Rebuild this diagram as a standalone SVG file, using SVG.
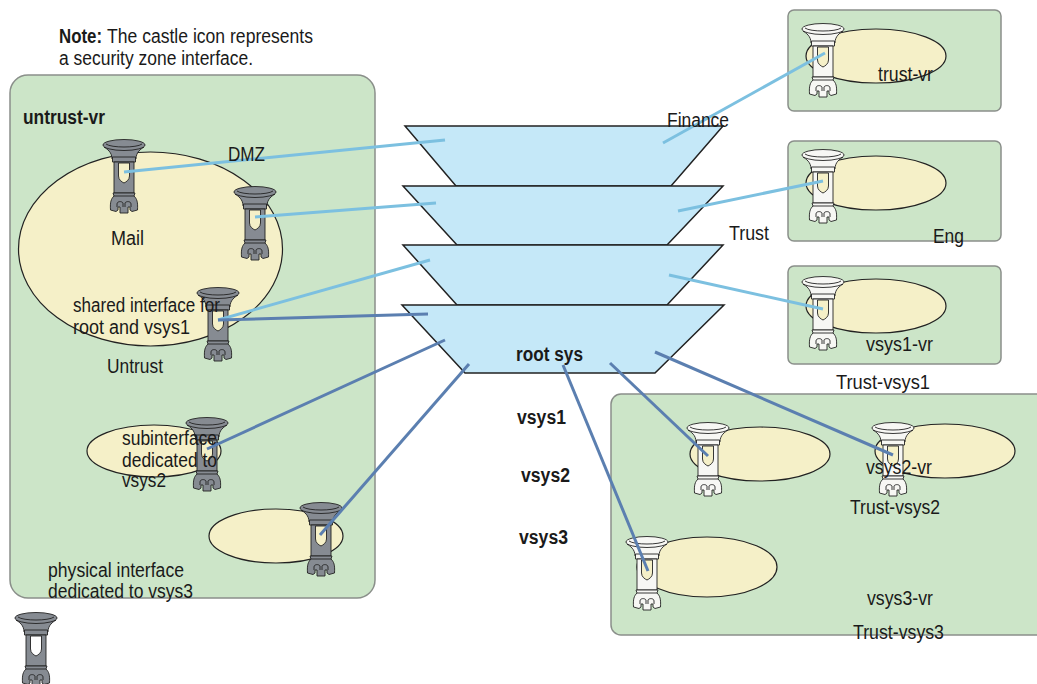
<svg xmlns="http://www.w3.org/2000/svg" width="1037" height="684" viewBox="0 0 1037 684">
<style>
text{font-family:"Liberation Sans",Arial,sans-serif;font-size:19.500px;fill:#1a1a1a}
.b{font-weight:bold}
.zone{fill:#cce5c8;stroke:#8a8f8a;stroke-width:1.500}
.oval{fill:#f5f0c8;stroke:#222;stroke-width:1.200}
.tier{fill:#c5e8f8;stroke:#222;stroke-width:1.500}
.lt{stroke:#7cc0e0;stroke-width:3;fill:none}
.dk{stroke:#5b7fb0;stroke-width:3;fill:none}
.gray{color:#868b92;--w:#f5f0c8}
.white{color:#f7f7f4;--w:#f5f0c8}
.plain{--w:#ffffff}
.win{fill:var(--w)}
</style>
<defs>
<g id="castle" stroke="#222" stroke-width="0.900" stroke-linejoin="round">
<path fill="currentColor" d="M9 20C9 13 4 10 1 8L41 8C38 10 33 13 33 20Z"/>
<ellipse fill="currentColor" cx="21" cy="6" rx="21" ry="5.500"/>
<path fill="none" d="M3 5C8 9 34 9 39 5"/>
<rect fill="currentColor" x="9.500" y="18" width="23" height="5"/>
<rect fill="currentColor" x="11" y="23" width="20" height="31"/>
<path fill="currentColor" d="M10 54H32L31 57C34 60 35 63 34.500 71L29 72.500L27 71V68H25V74H17V68H15V71L13 72.500L7.500 71C7 63 8 60 11 57Z"/>
<path fill="none" d="M11 57H31M14 68V65C14 62 19 62 20 64V68M22 68V64C23 62 28 62 28 65V68"/>
<path class="win" d="M15.500 24H26.500V37C26.500 41 23 43 21 44C19 43 15.500 41 15.500 37Z"/>
</g>
</defs>
<g id="note">
<text class="b" x="59" y="43" textLength="43" lengthAdjust="spacingAndGlyphs">Note:</text>
<text x="107" y="43" textLength="206" lengthAdjust="spacingAndGlyphs">The castle icon represents</text>
<text x="59" y="65" textLength="194" lengthAdjust="spacingAndGlyphs">a security zone interface.</text>
</g>
<g id="untrust-vr">
<rect class="zone" x="10" y="75" width="365" height="523" rx="18"/>
<text class="b" x="23" y="124" textLength="82" lengthAdjust="spacingAndGlyphs">untrust-vr</text>
</g>
<g id="zone-dmz"><ellipse class="oval" cx="150.500" cy="249" rx="132" ry="97"/></g>
<g id="zone-sub"><ellipse class="oval" cx="154" cy="451" rx="67" ry="26"/></g>
<g id="zone-phys"><ellipse class="oval" cx="276" cy="536" rx="67" ry="27"/></g>
<g id="trust-vr"><rect class="zone" x="788" y="10" width="213" height="101" rx="6"/><ellipse class="oval" cx="876" cy="56" rx="70" ry="27"/></g>
<g id="eng"><rect class="zone" x="788" y="141" width="213" height="100" rx="6"/><ellipse class="oval" cx="876" cy="183" rx="70" ry="27"/></g>
<g id="vsys1-vr"><rect class="zone" x="788" y="266" width="213" height="98" rx="6"/><ellipse class="oval" cx="876" cy="306" rx="70" ry="27"/></g>
<g id="vsys23"><rect class="zone" x="611" y="394" width="440" height="241" rx="10"/>
<ellipse class="oval" cx="760" cy="454" rx="70" ry="27"/><ellipse class="oval" cx="945" cy="451" rx="70" ry="27"/><ellipse class="oval" cx="707" cy="567" rx="70" ry="30"/></g>
<g id="tier-finance"><polygon class="tier" points="405,126 723,126 671,186 456,186"/></g>
<g id="tier-trust"><polygon class="tier" points="403,186 723,186 667,245 457,245"/></g>
<g id="tier-vsys1"><polygon class="tier" points="403,245 723,245 667,305 457,305"/></g>
<g id="root-sys"><polygon class="tier" points="402,305 724,305 655,373 465,373"/>
<text class="b" x="516" y="361" textLength="67" lengthAdjust="spacingAndGlyphs">root sys</text></g>
<g id="castles">
<use href="#castle" class="gray" x="103" y="139"/>
<use href="#castle" class="gray" x="234" y="186"/>
<use href="#castle" class="gray" x="197" y="287"/>
<use href="#castle" class="gray" x="186" y="417"/>
<use href="#castle" class="gray" x="300" y="502"/>
<use href="#castle" class="gray plain" x="15" y="612"/>
<use href="#castle" class="white" x="802" y="23"/>
<use href="#castle" class="white" x="802" y="149"/>
<use href="#castle" class="white" x="802" y="276"/>
<use href="#castle" class="white" x="687" y="422"/>
<use href="#castle" class="white" x="872" y="422"/>
<use href="#castle" class="white" x="626" y="536"/>
</g>
<g id="connectors">
<line class="lt" x1="124" y1="172" x2="445" y2="140"/>
<line class="lt" x1="255" y1="217" x2="436" y2="203"/>
<line class="lt" x1="218" y1="320" x2="430" y2="260"/>
<line class="dk" x1="218" y1="320" x2="428" y2="314"/>
<line class="dk" x1="207" y1="449" x2="445" y2="340"/>
<line class="dk" x1="320" y1="535" x2="469" y2="364"/>
<line class="lt" x1="825" y1="53" x2="663" y2="143"/>
<line class="lt" x1="823" y1="181" x2="678" y2="211"/>
<line class="lt" x1="823" y1="309" x2="669" y2="275"/>
<line class="dk" x1="708" y1="456" x2="610" y2="363"/>
<line class="dk" x1="893" y1="455" x2="655" y2="352"/>
<line class="dk" x1="648" y1="571" x2="563" y2="365"/>
</g>
<g id="labels">
<text x="228" y="161" textLength="37" lengthAdjust="spacingAndGlyphs">DMZ</text>
<text x="111" y="245" textLength="33" lengthAdjust="spacingAndGlyphs">Mail</text>
<text x="73" y="312" textLength="147" lengthAdjust="spacingAndGlyphs">shared interface for</text>
<text x="73" y="334" textLength="117" lengthAdjust="spacingAndGlyphs">root and vsys1</text>
<text x="107" y="373" textLength="56" lengthAdjust="spacingAndGlyphs">Untrust</text>
<text x="122" y="445" textLength="95" lengthAdjust="spacingAndGlyphs">subinterface</text>
<text x="122" y="467" textLength="95" lengthAdjust="spacingAndGlyphs">dedicated to</text>
<text x="122" y="487" textLength="44" lengthAdjust="spacingAndGlyphs">vsys2</text>
<text x="48" y="577" textLength="136" lengthAdjust="spacingAndGlyphs">physical interface</text>
<text x="48" y="598" textLength="145" lengthAdjust="spacingAndGlyphs">dedicated to vsys3</text>
<text x="667" y="127" textLength="62" lengthAdjust="spacingAndGlyphs">Finance</text>
<text x="729" y="240" textLength="40" lengthAdjust="spacingAndGlyphs">Trust</text>
<text x="878" y="81" textLength="55" lengthAdjust="spacingAndGlyphs">trust-vr</text>
<text x="933" y="243" textLength="31" lengthAdjust="spacingAndGlyphs">Eng</text>
<text x="866" y="351" textLength="67" lengthAdjust="spacingAndGlyphs">vsys1-vr</text>
<text x="836" y="389" textLength="94" lengthAdjust="spacingAndGlyphs">Trust-vsys1</text>
<text class="b" x="517" y="424" textLength="49" lengthAdjust="spacingAndGlyphs">vsys1</text>
<text class="b" x="521" y="482" textLength="49" lengthAdjust="spacingAndGlyphs">vsys2</text>
<text class="b" x="519" y="544" textLength="49" lengthAdjust="spacingAndGlyphs">vsys3</text>
<text x="866" y="474" textLength="66" lengthAdjust="spacingAndGlyphs">vsys2-vr</text>
<text x="850" y="514" textLength="90" lengthAdjust="spacingAndGlyphs">Trust-vsys2</text>
<text x="867" y="605" textLength="66" lengthAdjust="spacingAndGlyphs">vsys3-vr</text>
<text x="853" y="639" textLength="91" lengthAdjust="spacingAndGlyphs">Trust-vsys3</text>
</g>
</svg>
